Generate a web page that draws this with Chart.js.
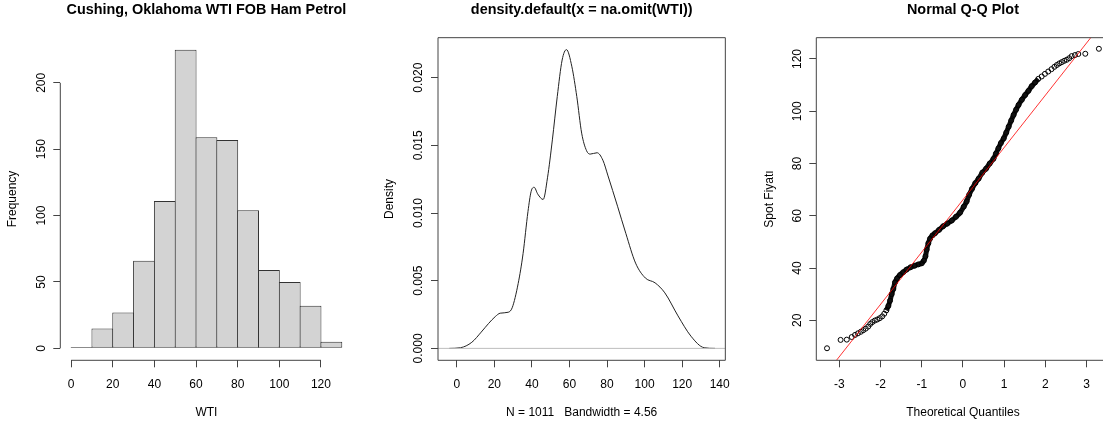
<!DOCTYPE html>
<html lang="tr">
<head>
<meta charset="UTF-8">
<title>WTI</title>
<script src="https://cdn.jsdelivr.net/npm/chart.js"></script>
<style>
  html, body { margin: 0; padding: 0; background: #fff; overflow: hidden; width: 1103px; height: 425px; }
  canvas { position: absolute; top: 0; }
</style>
</head>
<body>
<canvas id="hist" width="370" height="425" style="left:0px"></canvas>
<canvas id="dens" width="370" height="425" style="left:370px"></canvas>
<canvas id="qq" width="375" height="425" style="left:740px"></canvas>
<script>
// histogram (bins of width 10)
const binMid = [5, 15, 25, 35, 45, 55, 65, 75, 85, 95, 105, 115, 125];
const binCount = [1, 15, 27, 66, 111, 225, 159, 157, 104, 59, 50, 32, 5];
const histXTicks = [0, 20, 40, 60, 80, 100, 120];
const histYTicks = [0, 50, 100, 150, 200];

// density curve (y in units of 0.001)
const densX = [-4, 2, 8, 13, 17, 20.5, 23.1, 27.4, 29.5, 32.7, 35.3, 37.9, 39.6, 41.2, 43.1, 46.0, 48.3, 50.9, 53.5, 56.1, 58.4, 61.3, 63.9, 66.5, 69.1, 71, 74.7, 77.8, 80.4, 85.6, 90.0, 95.2, 100.4, 105.6, 110.8, 117.8, 124.7, 131.7, 137.5];
const densY = [0, 0.05, 0.45, 1.2, 1.85, 2.35, 2.6, 2.67, 3.0, 4.8, 7.0, 10.1, 11.6, 11.9, 11.4, 11.0, 12.6, 15.4, 18.6, 21.3, 22.07, 20.8, 18.6, 15.9, 14.6, 14.35, 14.45, 13.9, 12.8, 10.5, 8.5, 6.3, 5.2, 4.84, 4.1, 2.4, 0.9, 0.05, 0];
const densXTicks = [0, 20, 40, 60, 80, 100, 120, 140];
const densYTicks = [0, 0.005, 0.010, 0.015, 0.020];

// normal Q-Q points
const qqTheo = [-3.30, -2.97, -2.82, -2.70, -2.62, -2.55, -2.48, -2.42, -2.36, -2.30, -2.25, -2.20, -2.14, -2.08, -2.02, -1.96, -1.91,
  -1.86, -1.81, -1.77, -1.73, -1.69, -1.65, -1.60, -1.53, -1.45, -1.37, -1.27, -1.17, -1.08, -1.00, -0.95, -0.91, -0.88, -0.84, -0.80,
  -0.74, -0.68, -0.58, -0.48, -0.38, -0.27, -0.17, -0.07, 0.02, 0.09, 0.15, 0.22, 0.30, 0.38, 0.47, 0.56, 0.65, 0.74, 0.80, 0.86, 0.92,
  0.99, 1.05, 1.11, 1.17, 1.23, 1.29, 1.35, 1.43, 1.51, 1.59, 1.67, 1.75, 1.83,
  1.91, 1.99, 2.07, 2.15, 2.22, 2.28, 2.34, 2.40, 2.46, 2.52, 2.58, 2.64, 2.72, 2.80, 2.97, 3.30];
const qqSample = [9.3, 12.5, 12.6, 13.6, 14.4, 15.0, 15.6, 16.2, 16.8, 17.6, 18.6, 19.3, 19.9, 20.3, 20.8, 21.5, 22.5,
  23.8, 25.5, 27.5, 30.0, 32.0, 34.5, 36.0, 37.3, 38.4, 39.4, 40.3, 40.9, 41.4, 41.8, 42.8, 44.5, 47.0, 49.5, 51.2,
  52.5, 53.3, 54.6, 56.0, 57.0, 58.2, 59.6, 61.2, 63.5, 65.5, 68.0, 70.3, 72.5, 74.2, 76.5, 78.0, 80.0, 81.8, 83.8, 85.8, 87.8,
  89.6, 91.8, 94.1, 96.4, 98.6, 100.6, 102.4, 104.4, 106.2, 107.8, 109.6, 111.0, 112.4,
  113.3, 114.3, 115.2, 116.1, 117.0, 117.7, 118.3, 118.8, 119.3, 119.7, 120.3, 121.1, 121.5, 121.9, 122.0, 123.9];
const qqDense = [17, 69];   // index range where the circles merge into a solid band
const qqIntercept = 66.1;
const qqSlope = 20.0;
const qqXTicks = [-3, -2, -1, 0, 1, 2, 3];
const qqYTicks = [20, 40, 60, 80, 100, 120];

Chart.defaults.font.family = "'Liberation Sans', Arial, sans-serif";
Chart.defaults.font.size = 12;
Chart.defaults.color = '#000';
Chart.defaults.animation = false;
Chart.defaults.plugins.legend.display = false;
Chart.defaults.plugins.tooltip.enabled = false;

// R style axis lines: from first to last tick, or a full box
const rAxes = {
  id: 'rAxes',
  afterDraw(chart, args, opts) {
    const {ctx, chartArea: a, scales: {x, y}} = chart;
    ctx.save();
    ctx.strokeStyle = '#444';
    ctx.lineWidth = 1;
    ctx.beginPath();
    if (opts.box) {
      ctx.rect(a.left, a.top, a.width, a.height);
    } else {
      const xt = x.ticks, yt = y.ticks;
      ctx.moveTo(x.getPixelForValue(xt[0].value), a.bottom);
      ctx.lineTo(x.getPixelForValue(xt[xt.length - 1].value), a.bottom);
      ctx.moveTo(a.left, y.getPixelForValue(yt[0].value));
      ctx.lineTo(a.left, y.getPixelForValue(yt[yt.length - 1].value));
    }
    ctx.stroke();
    ctx.restore();
  }
};

function rScale(o) {
  return {
    type: 'linear', min: o.min, max: o.max, offset: false,
    afterBuildTicks: s => { s.ticks = o.ticks.map(v => ({value: v})); },
    afterFit: s => { if (o.w) s.width = o.w; if (o.h) s.height = o.h; },
    grid: {offset: false, drawOnChartArea: false, drawTicks: true, tickLength: 7, tickColor: '#444'},
    border: {display: false},
    ticks: {
      autoSkip: false, padding: o.pad,
      minRotation: o.rot || 0, maxRotation: o.rot || 0,
      crossAlign: o.rot ? 'center' : 'near',
      callback: o.fmt || (v => String(v)),
      font: {size: 12}
    },
    title: {display: true, text: o.title, font: {size: 12}, padding: o.titlePad}
  };
}

function mainTitle(text) {
  return {display: true, text: text, fullSize: false, font: {size: 14.4, weight: 'bold'},
    padding: {top: 1.1, bottom: 19.3}};
}

// bars are one pixel wider than a bin so neighbours share a single edge line
new Chart(document.getElementById('hist'), {
  type: 'bar',
  data: {
    datasets: [{
      data: binMid.map((m, i) => ({x: m, y: binCount[i]})),
      backgroundColor: '#d3d3d3',
      borderColor: '#333',
      borderWidth: 1,
      borderSkipped: false,
      barPercentage: 1.048, categoryPercentage: 1
    }]
  },
  options: {
    responsive: false,
    layout: {padding: {left: 0, right: 17.4, top: 0, bottom: 0}},
    scales: {
      x: rScale({min: -5.2, max: 135.2, ticks: histXTicks, h: 64.7, pad: 10, title: 'WTI', titlePad: {top: 0, bottom: 5.2}}),
      y: rScale({min: -9, max: 234, ticks: histYTicks, w: 60.3, pad: 2.1, rot: 90, title: 'Frequency', titlePad: {top: 5.8, bottom: 0}})
    },
    plugins: {title: mainTitle('Cushing, Oklahoma WTI FOB Ham Petrol'), rAxes: {box: false}}
  },
  plugins: [rAxes]
});

const densMin = -10, densMax = 143;
new Chart(document.getElementById('dens'), {
  type: 'scatter',
  data: {
    datasets: [{
      data: [{x: densMin, y: 0}, {x: densMax, y: 0}],
      showLine: true, borderColor: '#bebebe', borderWidth: 1, pointRadius: 0, order: 0
    }, {
      data: densX.map((v, i) => ({x: v, y: densY[i] / 1000})),
      showLine: true, borderColor: '#222', borderWidth: 1, pointRadius: 0,
      cubicInterpolationMode: 'monotone', order: 1
    }]
  },
  options: {
    responsive: false,
    layout: {padding: {left: 0, right: 8.3, top: 0, bottom: 0}},
    scales: {
      x: rScale({min: densMin, max: densMax, ticks: densXTicks, h: 64.7, pad: 10, title: 'N = 1011   Bandwidth = 4.56', titlePad: {top: 0, bottom: 5.2}}),
      y: rScale({min: -0.00088, max: 0.02295, ticks: densYTicks, w: 68, pad: -2.9, rot: 90, fmt: v => v.toFixed(3), title: 'Density', titlePad: {top: 12.8, bottom: 0}})
    },
    plugins: {title: mainTitle('density.default(x = na.omit(WTI))'), rAxes: {box: true}}
  },
  plugins: [rAxes]
});

const qqMin = -3.56, qqMax = 3.56;
const qqPts = qqTheo.map((t, i) => ({x: t, y: qqSample[i]}));
new Chart(document.getElementById('qq'), {
  type: 'scatter',
  data: {
    datasets: [{
      data: [{x: qqMin, y: qqIntercept + qqSlope * qqMin}, {x: qqMax, y: qqIntercept + qqSlope * qqMax}],
      showLine: true, borderColor: 'rgba(255,0,0,0.8)', borderWidth: 1, pointRadius: 0, order: 0
    }, {
      data: qqPts,
      pointRadius: 2.5, pointBorderWidth: 1, pointBorderColor: '#000', pointBackgroundColor: 'rgba(0,0,0,0)',
      pointHoverRadius: 2.5, order: 1
    }, {
      data: qqPts.slice(qqDense[0], qqDense[1] + 1),
      showLine: true, borderColor: '#111', borderWidth: 5, pointRadius: 0,
      cubicInterpolationMode: 'monotone', order: 2
    }]
  },
  options: {
    responsive: false,
    layout: {padding: {left: 0, right: 5.4, top: 0, bottom: 0}},
    scales: {
      x: rScale({min: qqMin, max: qqMax, ticks: qqXTicks, h: 64.7, pad: 10, title: 'Theoretical Quantiles', titlePad: {top: 0, bottom: 5.2}}),
      y: rScale({min: 4.69, max: 128.15, ticks: qqYTicks, w: 76.3, pad: 2.1, rot: 90, title: 'Spot Fiyatı', titlePad: {top: 22.3, bottom: 0}})
    },
    plugins: {title: mainTitle('Normal Q-Q Plot'), rAxes: {box: true}}
  },
  plugins: [rAxes]
});
</script>
</body>
</html>
